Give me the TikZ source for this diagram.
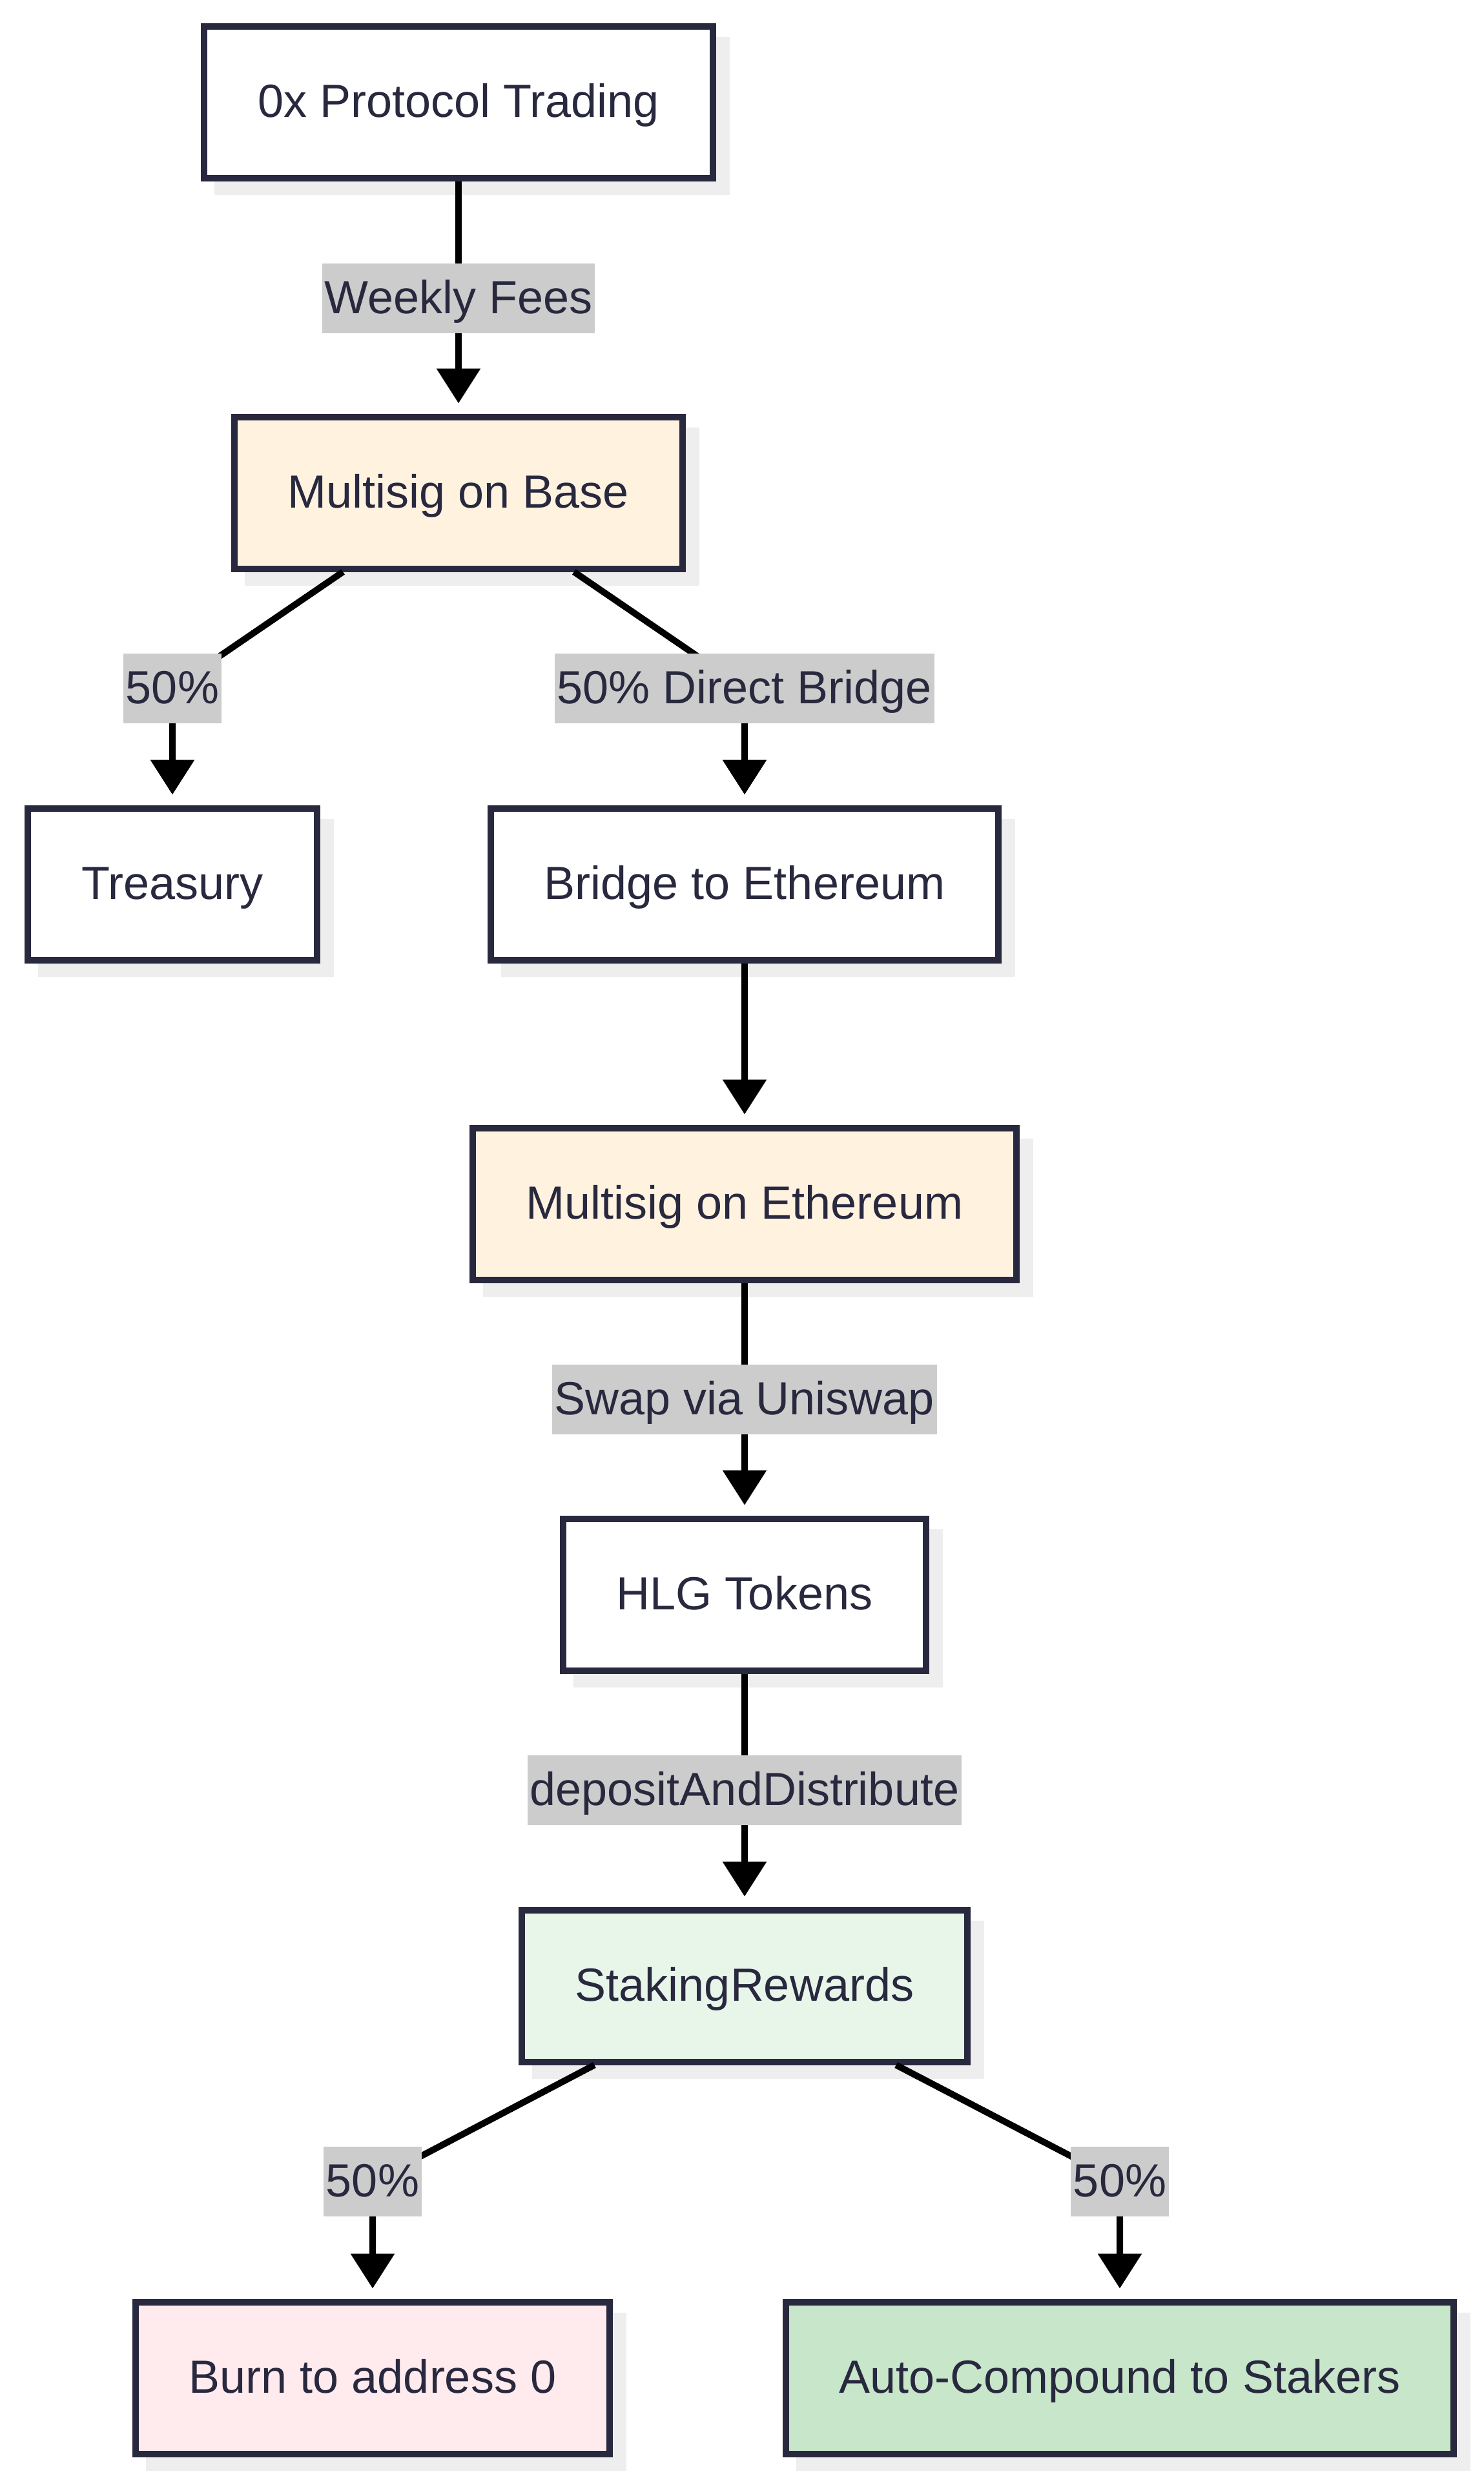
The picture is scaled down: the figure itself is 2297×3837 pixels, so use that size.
\documentclass[tikz,border=0pt]{standalone}
\usepackage{fontspec}
\setmainfont{Liberation Sans}
\usetikzlibrary{arrows.meta,shadows}

\definecolor{navy}{HTML}{28283E}
\definecolor{cream}{HTML}{FFF3E0}
\definecolor{mint}{HTML}{E8F5E9}
\definecolor{rose}{HTML}{FFEBEE}
\definecolor{leaf}{HTML}{C8E6C9}
\definecolor{lblgray}{HTML}{CCCCCC}
\definecolor{shadegray}{HTML}{EEEEEE}

\begin{document}
\begin{tikzpicture}[x=0.5pt, y=-0.5pt,
        every node/.style={font=\fontsize{36}{43}\selectfont, text=navy},
        box/.style={draw=navy, line width=5pt, fill=white, inner xsep=41.5pt, inner ysep=0pt,
            minimum height=117.5pt, text height=28.8pt, text depth=5.8pt,
            drop shadow={shadow xshift=10.5pt, shadow yshift=-10.5pt, fill=shadegray,
                draw=shadegray, line width=5pt, opacity=1}},
        lbl/.style={fill=lblgray, inner xsep=2pt, inner ysep=0pt, minimum height=54pt,
            text height=28.8pt, text depth=5.8pt},
        flow/.style={draw=black, line width=5pt, -{Triangle[length=27pt,width=33pt]}, shorten >=8pt}]
        \useasboundingbox (0,0) rectangle (2297,3837);

        \node[box] (trading) at (710,158.5) {0x Protocol Trading};
        \node[box, fill=cream] (baseMs) at (710,763) {Multisig on Base};
        \node[box] (treasury) at (267,1369) {Treasury};
        \node[box] (bridge) at (1153,1369) {Bridge to Ethereum};
        \node[box, fill=cream] (ethMs) at (1153,1864) {Multisig on Ethereum};
        \node[box] (hlg) at (1153,2469) {HLG Tokens};
        \node[box, fill=mint] (staking) at (1153,3075) {StakingRewards};
        \node[box, fill=rose] (burn) at (577,3682) {Burn to address 0};
        \node[box, fill=leaf] (autoc) at (1734,3682) {Auto-Compound to Stakers};

        \coordinate (cFees) at (710,462);
        \coordinate (cTreas) at (267,1066);
        \coordinate (cBridge) at (1153,1066);
        \coordinate (cSwap) at (1153,2167);
        \coordinate (cDep) at (1153,2772);
        \coordinate (cBurn) at (577,3378);
        \coordinate (cAuto) at (1734,3378);

        \draw[flow] (trading) -- (cFees) node[lbl] (lFees) {Weekly Fees} -- (baseMs);
        \draw[flow] (baseMs) -- (cTreas) node[lbl] (lTreas) {50\%} -- (treasury);
        \draw[flow] (baseMs) -- (cBridge) node[lbl] (lBridge) {50\% Direct Bridge} -- (bridge);
        \draw[flow] (bridge) -- (ethMs);
        \draw[flow] (ethMs) -- (cSwap) node[lbl] (lSwap) {Swap via Uniswap} -- (hlg);
        \draw[flow] (hlg) -- (cDep) node[lbl] (lDep) {depositAndDistribute} -- (staking);
        \draw[flow] (staking) -- (cBurn) node[lbl] (lBurn) {50\%} -- (burn);
        \draw[flow] (staking) -- (cAuto) node[lbl] (lAuto) {50\%} -- (autoc);

    \end{tikzpicture}
\end{document}
